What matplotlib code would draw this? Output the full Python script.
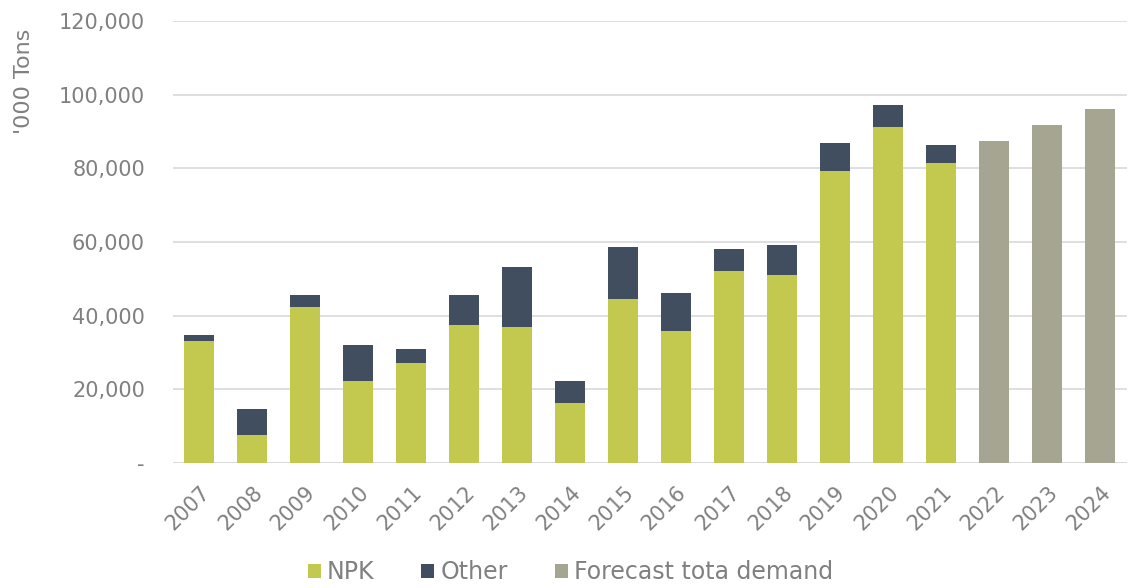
import matplotlib.pyplot as plt
import numpy as np
from matplotlib.ticker import FuncFormatter

# data ('000 tons)
years = [str(y) for y in range(2007, 2025)]
npk = [33100, 7600, 42400, 22300, 27200, 37500, 36900, 16300, 44500,
       35800, 52100, 51000, 79300, 91200, 81500, 0, 0, 0]
other = [1650, 7100, 3200, 9700, 3800, 8100, 16300, 6000, 14100,
         10400, 6000, 8200, 7600, 6000, 4800, 0, 0, 0]
forecast = [0] * 15 + [87400, 91800, 96100]

C_NPK = '#c3c94e'
C_OTHER = '#414e60'
C_FC = '#a6a591'
TXT = '#808080'

plt.rcParams['font.family'] = ['DejaVu Sans']

fig = plt.figure(figsize=(11.29, 5.88), dpi=100)
ax = fig.add_axes([0.153, 0.2126, 0.845, 0.7517])

x = np.arange(len(years))
w = 0.57
ax.bar(x, npk, w, color=C_NPK, label='NPK', zorder=3)
ax.bar(x, other, w, bottom=npk, color=C_OTHER, label='Other', zorder=3)
ax.bar(x, forecast, w, color=C_FC, label='Forecast tota demand', zorder=3)

ax.set_xlim(-0.5, len(years) - 0.5)
ax.set_ylim(0, 120000)
ax.set_yticks(range(0, 120001, 20000))
ax.yaxis.set_major_formatter(FuncFormatter(lambda v, p: '-' if v == 0 else f'{int(v):,}'))
ax.grid(axis='y', color='#d9d9d9', linewidth=1.2, zorder=0)
for s in ax.spines.values():
    s.set_visible(False)
ax.tick_params(length=0, labelsize=15, colors=TXT, pad=20)
ax.tick_params(axis='x', pad=14)
ax.set_xticks(x)
ax.set_xticklabels(years, rotation=45, ha='right', rotation_mode='anchor')
ax.axhline(0, color='#d9d9d9', linewidth=1.2, zorder=2)

fig.text(0.021, 0.862, "'000 Tons", rotation=90, ha='center', va='center',
         fontsize=16, color=TXT)

fig.legend(loc='lower center', bbox_to_anchor=(0.505, -0.03), ncol=3, frameon=False,
           fontsize=17, labelcolor=TXT, handlelength=0.55, handleheight=0.55,
           handletextpad=0.25, columnspacing=2.0)

fig.savefig('out.png', dpi=100)
